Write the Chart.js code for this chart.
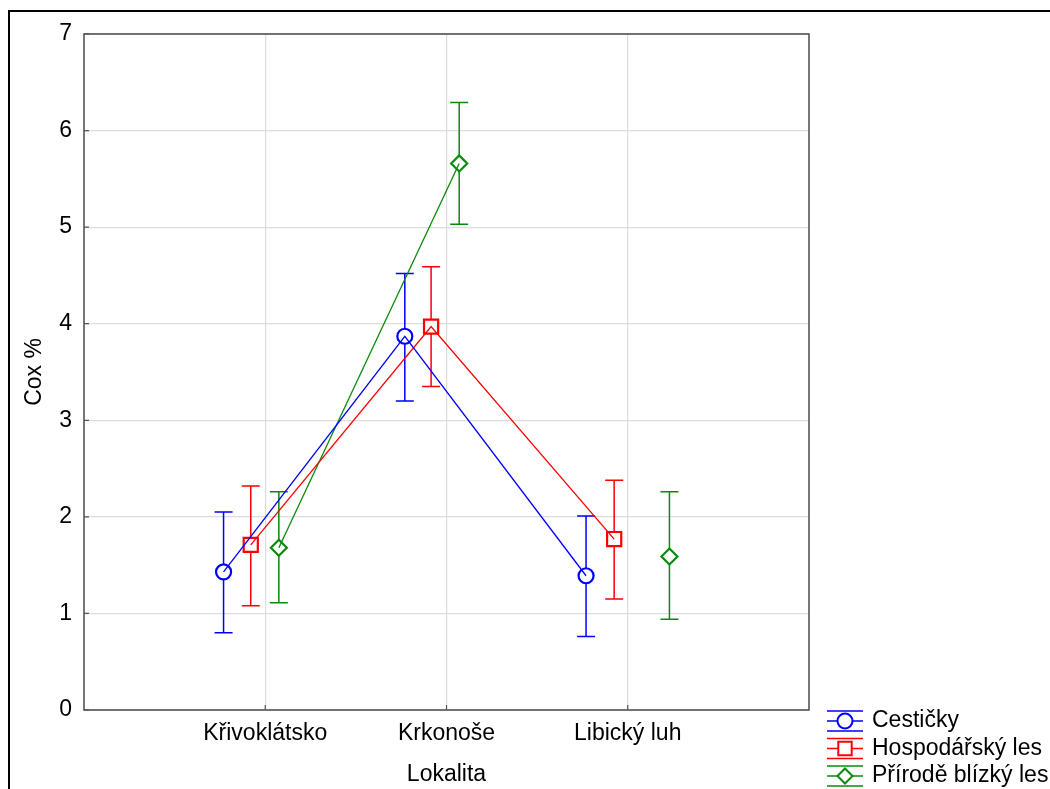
<!DOCTYPE html>
<html><head><meta charset="utf-8">
<script src="https://cdn.jsdelivr.net/npm/chart.js@4"></script>
<style>html,body{margin:0;padding:0;background:#fff}#wrap{width:1050px;height:789px;position:relative}</style>
</head><body><div id="wrap"><canvas id="c" width="1050" height="789"></canvas></div>
<script>
// ---- data ----
const categories = ['Křivoklátsko', 'Krkonoše', 'Libický luh'];
const seriesNames = ['Cestičky', 'Hospodářský les', 'Přírodě blízký les'];
const yTicks = [0, 1, 2, 3, 4, 5, 6, 7];
const cesticky = [1.43, 3.87, 1.39];
const cestickyLow = [0.80, 3.20, 0.76];
const cestickyHigh = [2.05, 4.52, 2.01];
const hospodarsky = [1.71, 3.97, 1.77];
const hospodarskyLow = [1.08, 3.35, 1.15];
const hospodarskyHigh = [2.32, 4.59, 2.38];
const prirode = [1.68, 5.66, 1.59];
const prirodeLow = [1.11, 5.03, 0.94];
const prirodeHigh = [2.26, 6.29, 2.26];

// ---- styling / layout ----
const FONT = "'Liberation Sans', Arial, sans-serif";
const FS = 23;
const colors = ['#0000ff', '#ff0000', '#0a8a0a'];
const styles = ['circle', 'rect', 'rectRot'];
const radii = [7.5, 10, 8];
const offsets = [[-0.23, -0.23, -0.23], [-0.08, -0.085, -0.075], [0.075, 0.07, 0.23]];
const gapAfter = [null, null, 1]; // green line not drawn between Krkonoše and Libický luh
const means = [cesticky, hospodarsky, prirode];
const lows = [cestickyLow, hospodarskyLow, prirodeLow];
const highs = [cestickyHigh, hospodarskyHigh, prirodeHigh];

function pts(s) { return means[s].map((v, i) => ({ x: i + 1 + offsets[s][i], y: v })); }

const datasets = [];
for (let s = 0; s < 3; s++) {
  datasets.push({
    label: seriesNames[s], data: pts(s), showLine: true, order: 0,
    borderColor: colors[s], borderWidth: 1.3, pointRadius: 0, pointHoverRadius: 0,
    segment: { borderColor: ctx => (gapAfter[s] !== null && ctx.p0DataIndex === gapAfter[s]) ? 'rgba(0,0,0,0)' : colors[s] }
  });
}
for (let s = 0; s < 3; s++) {
  datasets.push({
    label: seriesNames[s] + ' ', data: pts(s), showLine: false, order: 1,
    borderColor: colors[s], backgroundColor: '#fff', pointStyle: styles[s],
    pointRadius: radii[s], pointBorderWidth: 2.2, pointBackgroundColor: '#fff', pointBorderColor: colors[s]
  });
}

function drawMarker(ctx, style, x, y, r) {
  ctx.beginPath();
  if (style === 'circle') ctx.arc(x, y, r, 0, Math.PI * 2);
  else if (style === 'rect') { const h = r * Math.SQRT1_2; ctx.rect(x - h, y - h, 2 * h, 2 * h); }
  else { ctx.moveTo(x - r, y); ctx.lineTo(x, y - r); ctx.lineTo(x + r, y); ctx.lineTo(x, y + r); ctx.closePath(); }
  ctx.fill(); ctx.stroke();
}

const extras = {
  id: 'extras',
  beforeDraw(chart) {
    const ctx = chart.ctx;
    ctx.save();
    ctx.fillStyle = '#fff'; ctx.fillRect(0, 0, chart.width, chart.height);
    ctx.strokeStyle = '#000'; ctx.lineWidth = 2;
    ctx.strokeRect(9, 11, 1200, 900);
    ctx.restore();
  },
  beforeDatasetsDraw(chart) {
    const ctx = chart.ctx, xs = chart.scales.x, ys = chart.scales.y;
    ctx.save();
    ctx.lineWidth = 1.5;
    for (let s = 0; s < 3; s++) {
      ctx.strokeStyle = colors[s];
      for (let i = 0; i < 3; i++) {
        const x = xs.getPixelForValue(i + 1 + offsets[s][i]);
        const yl = ys.getPixelForValue(lows[s][i]), yh = ys.getPixelForValue(highs[s][i]);
        ctx.beginPath();
        ctx.moveTo(x, yl); ctx.lineTo(x, yh);
        ctx.moveTo(x - 9, yl); ctx.lineTo(x + 9, yl);
        ctx.moveTo(x - 9, yh); ctx.lineTo(x + 9, yh);
        ctx.stroke();
      }
    }
    ctx.restore();
  },
  afterDraw(chart) {
    const ctx = chart.ctx, a = chart.chartArea, xs = chart.scales.x, ys = chart.scales.y;
    ctx.save();
    ctx.strokeStyle = '#555'; ctx.lineWidth = 1.6;
    ctx.strokeRect(a.left, a.top, a.right - a.left, a.bottom - a.top);
    ctx.lineWidth = 1.2; ctx.beginPath();
    yTicks.forEach(v => { const y = ys.getPixelForValue(v); ctx.moveTo(a.left, y); ctx.lineTo(a.left + 5, y); });
    categories.forEach((c, i) => { const x = xs.getPixelForValue(i + 1); ctx.moveTo(x, a.bottom); ctx.lineTo(x, a.bottom - 5); });
    ctx.stroke();
    // legend
    ctx.font = FS + 'px ' + FONT; ctx.textBaseline = 'middle'; ctx.textAlign = 'left';
    for (let s = 0; s < 3; s++) {
      const yc = 721 + s * 27.5;
      ctx.strokeStyle = colors[s]; ctx.lineWidth = 1.5;
      ctx.beginPath();
      [-10, 0, 10].forEach(d => { ctx.moveTo(827, yc + d); ctx.lineTo(863, yc + d); });
      ctx.stroke();
      ctx.lineWidth = 2; ctx.fillStyle = '#fff';
      drawMarker(ctx, styles[s], 845, yc, s === 1 ? 9.5 : 7.5);
      ctx.fillStyle = '#000';
      ctx.fillText(seriesNames[s], 872, yc);
    }
    ctx.restore();
  }
};

new Chart(document.getElementById('c'), {
  type: 'scatter',
  data: { datasets },
  options: {
    responsive: false, animation: false, devicePixelRatio: 1,
    layout: { padding: { top: 34, right: 241, left: 0, bottom: 0 } },
    plugins: { legend: { display: false }, tooltip: { enabled: false } },
    scales: {
      x: {
        type: 'linear', min: 0, max: 4,
        afterBuildTicks: s => { s.ticks = [0, 1, 2, 3, 4].map(v => ({ value: v })); },
        afterFit: s => { s.height = 79; },
        ticks: { autoSkip: false, maxRotation: 0, padding: 10, color: '#000', font: { size: FS, family: FONT },
          callback: v => (v >= 1 && v <= 3) ? categories[v - 1] : '' },
        grid: { drawTicks: false, color: c => (c.tick && c.tick.value >= 1 && c.tick.value <= 3) ? '#dcdcdc' : 'rgba(0,0,0,0)', lineWidth: 1.2 },
        border: { display: false },
        title: { display: true, text: 'Lokalita', color: '#000', font: { size: FS, family: FONT }, padding: { top: 0, bottom: 1 } }
      },
      y: {
        min: 0, max: 7,
        afterBuildTicks: s => { s.ticks = yTicks.map(v => ({ value: v })); },
        afterFit: s => { s.width = 84; },
        ticks: { padding: 12, color: '#000', font: { size: FS, family: FONT } },
        grid: { drawTicks: false, color: '#dcdcdc', lineWidth: 1.2 },
        border: { display: false },
        title: { display: true, text: 'Cox %', color: '#000', font: { size: FS, family: FONT }, padding: { top: 21, bottom: 0 } }
      }
    }
  },
  plugins: [extras]
});
</script></body></html>
